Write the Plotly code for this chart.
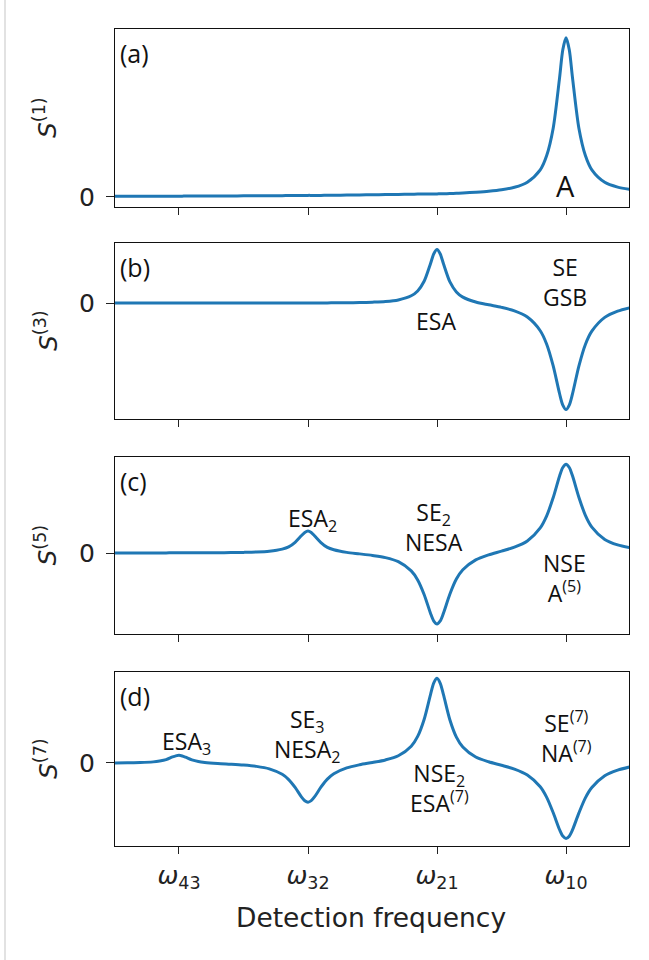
import plotly.graph_objects as go

# ---------------- data ----------------
freq = [0.5, 0.6, 0.7, 0.8, 0.85, 0.9, 0.95, 0.975, 1.0, 1.025, 1.05, 1.1, 1.15, 1.2,
        1.3, 1.4, 1.5, 1.6, 1.7, 1.8, 1.85, 1.9, 1.95, 1.975, 2.0, 2.025, 2.05, 2.1,
        2.15, 2.2, 2.3, 2.4, 2.5, 2.6, 2.7, 2.8, 2.85, 2.9, 2.95, 2.975, 3.0, 3.025,
        3.05, 3.1, 3.15, 3.2, 3.3, 3.4, 3.5, 3.6, 3.7, 3.8, 3.85, 3.9, 3.95, 3.975,
        4.0, 4.025, 4.05, 4.1, 4.15, 4.2, 4.3, 4.4, 4.5]

s1 = [0.005, 0.005, 0.005, 0.005, 0.005, 0.005, 0.005, 0.005, 0.005, 0.005, 0.006, 0.006, 0.006, 0.006,
      0.006, 0.006, 0.007, 0.007, 0.008, 0.008, 0.009, 0.009, 0.009, 0.009, 0.010, 0.010, 0.010, 0.010,
      0.011, 0.011, 0.012, 0.013, 0.014, 0.015, 0.016, 0.017, 0.018, 0.018, 0.019, 0.019, 0.019, 0.020,
      0.020, 0.022, 0.023, 0.025, 0.030, 0.036, 0.045, 0.061, 0.093, 0.170, 0.260, 0.430, 0.750, 0.925,
      1.0, 0.925, 0.750, 0.430, 0.260, 0.170, 0.092, 0.062, 0.047]

s3 = [0.0, 0.0, 0.0, 0.0, 0.0, 0.0, 0.0, 0.0, 0.0, 0.0, 0.0, 0.0, 0.0, 0.0,
      0.0, 0.0, 0.0, 0.0, 0.0, 0.0, 0.0, 0.0, 0.0, 0.0, 0.0, 0.0, 0.0, 0.0,
      0.001, 0.002, 0.002, 0.004, 0.008, 0.014, 0.029, 0.068, 0.113, 0.203, 0.370, 0.460, 0.500, 0.458,
      0.367, 0.197, 0.104, 0.055, 0.009, -0.017, -0.041, -0.073, -0.131, -0.259, -0.385, -0.586, -0.848, -0.954,
      -0.996, -0.954, -0.849, -0.587, -0.387, -0.263, -0.134, -0.076, -0.043]

s5 = [0.001, 0.001, 0.001, 0.001, 0.001, 0.001, 0.002, 0.002, 0.002, 0.002, 0.002, 0.002, 0.002, 0.002,
      0.003, 0.0045, 0.007, 0.011, 0.020, 0.0435, 0.069, 0.121, 0.197, 0.232, 0.248, 0.231, 0.195, 0.118,
      0.063, 0.036, 0.007, -0.010, -0.028, -0.052, -0.098, -0.202, -0.303, -0.467, -0.681, -0.767, -0.800, -0.766,
      -0.678, -0.462, -0.294, -0.189, -0.078, -0.021, 0.021, 0.066, 0.136, 0.283, 0.419, 0.622, 0.869, 0.964,
      1.0, 0.964, 0.870, 0.626, 0.425, 0.292, 0.153, 0.091, 0.058]

s7 = [0.0, 0.002, 0.005, 0.013, 0.023, 0.039, 0.071, 0.084, 0.090, 0.083, 0.069, 0.037, 0.018, 0.007,
      -0.006, -0.015, -0.025, -0.040, -0.069, -0.134, -0.196, -0.289, -0.403, -0.446, -0.463, -0.445, -0.401, -0.286,
      -0.191, -0.127, -0.058, -0.021, 0.006, 0.036, 0.085, 0.198, 0.314, 0.514, 0.811, 0.946, 1.0, 0.941,
      0.807, 0.508, 0.306, 0.189, 0.070, 0.014, -0.027, -0.072, -0.142, -0.281, -0.406, -0.585, -0.788, -0.863,
      -0.891, -0.864, -0.790, -0.589, -0.412, -0.290, -0.150, -0.085, -0.045]

tick_vals = [1, 2, 3, 4]
tick_text = ["<i>ω</i><sub>43</sub>", "<i>ω</i><sub>32</sub>",
             "<i>ω</i><sub>21</sub>", "<i>ω</i><sub>10</sub>"]
y_titles = ["<i>S</i><sup>(1)</sup>", "<i>S</i><sup>(3)</sup>",
            "<i>S</i><sup>(5)</sup>", "<i>S</i><sup>(7)</sup>"]
panel_tags = ["(a)", "(b)", "(c)", "(d)"]
x_title = "Detection frequency"

series = [s1, s3, s5, s7]

# ---------------- layout geometry ----------------
W, H = 649, 960
L, R, T, B = 115, 20, 29, 114
plot_w = W - L - R
plot_h = H - T - B

def py(y):   # pixel y -> paper
    return (H - B - y) / plot_h

def px(x):   # pixel x -> paper
    return (x - L) / plot_w

boxes = [(29, 207), (243, 419), (457, 634), (672, 846)]
yranges = [[-0.063, 1.055], [-1.084, 0.561], [-0.913, 1.082], [-0.98, 1.074]]

blue = "#1f77b4"
axis_font = dict(family="DejaVu Sans", size=25, color="#222222")
ann_font = dict(family="Open Sans", size=23, color="#111111")

fig = go.Figure()
for i, s in enumerate(series):
    k = "" if i == 0 else str(i + 1)
    fig.add_trace(go.Scatter(x=freq, y=s, mode="lines",
                             line=dict(color=blue, width=3, shape="spline", smoothing=0.8),
                             xaxis="x" + k, yaxis="y" + k, showlegend=False,
                             hoverinfo="skip"))
    top, bot = boxes[i]
    fig.layout["xaxis" + k] = dict(
        range=[0.504, 4.488], tickvals=tick_vals, ticktext=tick_text,
        showticklabels=(i == 3), ticks="outside", ticklen=7, tickwidth=1.3,
        tickcolor="#222222", showline=True, mirror=True, linecolor="#111111",
        linewidth=1.4, showgrid=False, zeroline=False, anchor="y" + k,
        tickfont=axis_font, domain=[0, 1])
    fig.layout["yaxis" + k] = dict(
        range=yranges[i], domain=[py(bot), py(top)], tickvals=[0], ticktext=["0"],
        ticks="outside", ticklen=8, tickwidth=1.3, tickcolor="#222222",
        showline=True, mirror=True, linecolor="#111111", linewidth=1.4,
        showgrid=False, zeroline=False, anchor="x" + k, tickfont=axis_font,
        ticklabelstandoff=6)

annotations = []
def ann(text, x, y, font=ann_font, xanchor="center", **kw):
    annotations.append(dict(text=text, x=px(x), y=py(y), xref="paper", yref="paper",
                            showarrow=False, xanchor=xanchor, yanchor="middle",
                            align="center", font=font, **kw))

tag_font = dict(family="Open Sans", size=25, color="#111111")
for i, tag in enumerate(panel_tags):
    top, bot = boxes[i]
    ann(tag, 118, top + 24, font=tag_font, xanchor="left")
    ann(y_titles[i], 46, (top + bot) / 2,
        font=dict(family="DejaVu Sans", size=25, color="#222222"), textangle=-90)

# panel (a)
ann("A", 565, 186, font=dict(family="Open Sans", size=29, color="#111111"))
# panel (b)
ann("ESA", 435.5, 321)
ann("SE<br>GSB", 565, 281.5)
# panel (c)
ann("ESA<sub>2</sub>", 312, 519)
ann("SE<sub>2</sub><br>NESA", 434, 526.5)
ann("NSE<br>A<sup>(5)</sup>", 564, 578)
# panel (d)
ann("ESA<sub>3</sub>", 186.4, 742)
ann("SE<sub>3</sub><br>NESA<sub>2</sub>", 307, 735)
ann("NSE<sub>2</sub><br>ESA<sup>(7)</sup>", 439, 788)
ann("SE<sup>(7)</sup><br>NA<sup>(7)</sup>", 566, 737)

ann(x_title, 371, 917, font=dict(family="DejaVu Sans", size=26.5, color="#222222"))

fig.update_layout(
    width=W, height=H, autosize=False,
    margin=dict(l=L, r=R, t=T, b=B, pad=0),
    paper_bgcolor="white", plot_bgcolor="white",
    annotations=annotations,
    shapes=[dict(type="line", xref="paper", yref="paper",
                 x0=px(5), x1=px(5), y0=py(H), y1=py(0),
                 line=dict(color="#d8d8d8", width=1.5))],
)

fig.write_html("out.html")
